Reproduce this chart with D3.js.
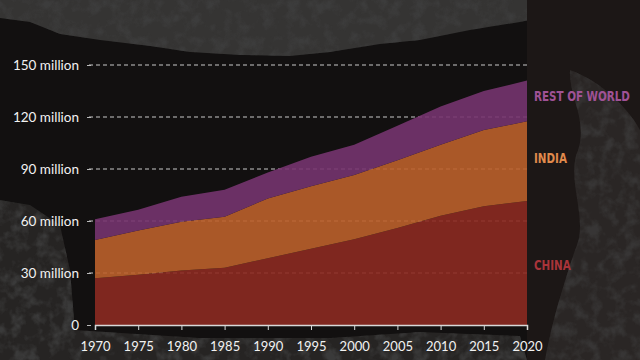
<!DOCTYPE html>
<html>
<head>
<meta charset="utf-8">
<script src="https://cdn.jsdelivr.net/npm/d3@7"></script>
<style>
  body { margin: 0; background: #121010; }
  svg { display: block; }
</style>
</head>
<body>
<div id="container"></div>
<script>
// data, millions of people
let years = [1970, 1975, 1980, 1985, 1990, 1995, 2000, 2005, 2010, 2015, 2020];
let china = [27, 29, 31.5, 33, 38.5, 44, 49.5, 56, 63, 68.5, 71.5];
let india = [22, 25.5, 28, 29.5, 34.5, 36, 37, 39, 41, 44, 46];
let restOfWorld = [12, 12, 14.5, 15.5, 15, 17, 17.5, 20, 22, 22.5, 23.5];
let seriesKeys = ["China", "India", "Rest of World"];
let yTicks = [0, 30, 60, 90, 120, 150];
let xTicks = years;

let colors = { "China": "#8c2a21", "India": "#bb602b", "Rest of World": "#75346f" };
let labelColors = { "China": "#a8343a", "India": "#e08a4c", "Rest of World": "#a05296" };

let w = 640;
let h = 360;
let margin = { left: 95, right: 113, top: 65, bottom: 35 };

let rows = years.map(function(y, i) {
  return { year: y, "China": china[i], "India": india[i], "Rest of World": restOfWorld[i] };
});

let svg = d3.select("#container")
  .append("svg")
  .attr("width", w)
  .attr("height", h);

// ---- background texture ----
let defs = svg.append("defs");
let f = defs.append("filter").attr("id", "grain")
  .attr("x", 0).attr("y", 0).attr("width", "100%").attr("height", "100%");
f.append("feTurbulence").attr("type", "fractalNoise")
  .attr("baseFrequency", 0.08).attr("numOctaves", 3).attr("seed", 7).attr("result", "n");
f.append("feColorMatrix").attr("in", "n").attr("type", "matrix")
  .attr("values", "0 0 0 0 0.05  0 0 0 0 0.05  0 0 0 0 0.05  0 0 0 -3 1.7")
  .attr("result", "c");
f.append("feComposite").attr("in", "c").attr("in2", "SourceGraphic").attr("operator", "in");

svg.append("rect").attr("width", w).attr("height", h).attr("fill", "#121010");

let topBand = "M0,0 L640,0 L640,10 L560,14 L520,22 L470,30 L420,40 L380,44 L330,52 L290,56 L240,55 L190,52 L150,46 L100,40 L60,34 L30,22 L0,18 Z";
svg.append("path").attr("d", topBand).attr("fill", "#353433");
svg.append("path").attr("d", topBand)
  .attr("fill", "#000").attr("filter", "url(#grain)").attr("opacity", 0.7);

// right panel
svg.append("rect").attr("x", 527).attr("y", 0).attr("width", 113).attr("height", h).attr("fill", "#1c1716");
let figure = "M570,70 C600,80 630,110 640,130 L640,360 L545,360 C552,320 565,280 575,250 C590,220 565,180 578,150 C588,120 568,95 570,70 Z";
svg.append("path").attr("d", figure).attr("fill", "#2a2625");
svg.append("path").attr("d", figure)
  .attr("fill", "#000").attr("filter", "url(#grain)").attr("opacity", 0.6);

// bottom / left texture
let lowBand = "M0,200 L30,205 L60,225 L70,270 L75,330 L200,338 L330,338 L420,332 L520,336 L527,360 L0,360 Z";
svg.append("path").attr("d", lowBand).attr("fill", "#262423");
svg.append("path").attr("d", lowBand)
  .attr("fill", "#000").attr("filter", "url(#grain)").attr("opacity", 0.8);

// ---- chart ----
let x = d3.scaleLinear()
  .domain([1970, 2020])
  .range([margin.left, w - margin.right]);

let y = d3.scaleLinear()
  .domain([0, 150])
  .range([h - margin.bottom, margin.top]);

// grid lines (behind areas)
svg.append("g")
  .selectAll("line")
  .data(yTicks.filter(function(d) { return d > 0; }))
  .enter()
  .append("line")
  .attr("x1", margin.left - 6)
  .attr("x2", w - margin.right)
  .attr("y1", function(d) { return y(d); })
  .attr("y2", function(d) { return y(d); })
  .attr("stroke", "#c8c8c8")
  .attr("stroke-width", 1)
  .attr("stroke-dasharray", "4,3");

let stack = d3.stack().keys(seriesKeys);
let layers = stack(rows);

let area = d3.area()
  .x(function(d) { return x(d.data.year); })
  .y0(function(d) { return y(d[0]); })
  .y1(function(d) { return y(d[1]); });

svg.append("g")
  .selectAll("path")
  .data(layers)
  .enter()
  .append("path")
  .attr("d", area)
  .attr("fill", function(d) { return colors[d.key]; })
  .attr("opacity", 0.9);

// y axis labels
let yAxis = d3.axisLeft(y)
  .tickValues(yTicks)
  .tickSize(4)
  .tickPadding(8)
  .tickFormat(function(d) { return d === 0 ? "0" : d + " million"; });

let gy = svg.append("g")
  .attr("transform", "translate(" + (margin.left - 4) + ",0)")
  .call(yAxis);
gy.select(".domain").remove();
gy.selectAll(".tick line").attr("stroke", "#bbb");
gy.selectAll("text")
  .attr("fill", "#f2f2f2")
  .style("font-family", "Lato, 'Noto Sans', sans-serif")
  .style("font-size", "13.5px");

// x axis
let xAxis = d3.axisBottom(x)
  .tickValues(xTicks)
  .tickSize(5)
  .tickPadding(12)
  .tickFormat(d3.format("d"));

let gx = svg.append("g")
  .attr("transform", "translate(0," + (h - margin.bottom) + ")")
  .call(xAxis);
gx.select(".domain").attr("stroke", "#d8d8d8").attr("stroke-width", 1.5);
gx.selectAll(".tick line").attr("stroke", "#d8d8d8");
gx.selectAll("text")
  .attr("fill", "#f2f2f2")
  .style("font-family", "Lato, 'Noto Sans', sans-serif")
  .style("font-size", "13px");

// series labels on the right (squeezed to look condensed)
let labelY = { "Rest of World": 96, "India": 158, "China": 265 };
svg.append("g")
  .selectAll("text")
  .data(seriesKeys)
  .enter()
  .append("text")
  .attr("transform", function(d) { return "translate(534," + labelY[d] + ") scale(0.74,1)"; })
  .attr("dy", "0.35em")
  .attr("fill", function(d) { return labelColors[d]; })
  .style("font-family", "'DejaVu Sans', sans-serif")
  .style("font-weight", "bold")
  .style("font-size", "14px")
  .text(function(d) { return d.toUpperCase(); });
</script>
</body>
</html>
